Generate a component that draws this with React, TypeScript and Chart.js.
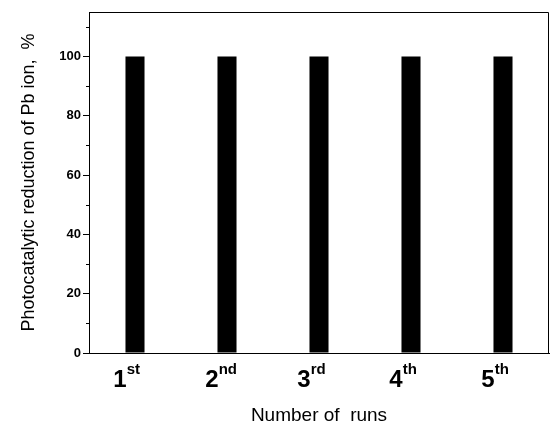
import React, { useEffect, useRef } from "react";
import { Chart, registerables } from "chart.js";

Chart.register(...registerables);

const runNumbers = ["1", "2", "3", "4", "5"];
const runSuffixes = ["st", "nd", "rd", "th", "th"];
const reductionValues = [100, 100, 100, 100, 100];
const yMajorTicks = [0, 20, 40, 60, 80, 100];
const yMinorTicks = [10, 30, 50, 70, 90, 110];
const yTitle = "Photocatalytic reduction of Pb ion,  %";
const xTitle = "Number of  runs";

const FONT = "'Liberation Sans', Arial, Helvetica, sans-serif";
const LABEL_OFFSET = -15;

const extrasPlugin = {
  id: "extras",
  afterDraw(chart: any) {
    const { ctx, chartArea } = chart;
    const x = chart.scales.x;
    const y = chart.scales.y;
    ctx.save();
    // frame
    ctx.strokeStyle = "#000";
    ctx.lineWidth = 1;
    ctx.beginPath();
    ctx.moveTo(chartArea.left, chartArea.top + 0.5);
    ctx.lineTo(chartArea.right - 0.5, chartArea.top + 0.5);
    ctx.lineTo(chartArea.right - 0.5, chartArea.bottom);
    ctx.stroke();
    // minor ticks
    ctx.beginPath();
    yMinorTicks.forEach((v) => {
      const py = Math.round(y.getPixelForValue(v)) + 0.5;
      ctx.moveTo(chartArea.left - 3, py);
      ctx.lineTo(chartArea.left, py);
    });
    ctx.stroke();
    // superscripts
    ctx.fillStyle = "#000";
    runNumbers.forEach((num, i) => {
      const cx = x.getPixelForTick(i) + LABEL_OFFSET;
      ctx.font = `bold 24px ${FONT}`;
      const w = ctx.measureText(num).width;
      ctx.font = `bold 15px ${FONT}`;
      ctx.textAlign = "left";
      ctx.textBaseline = "alphabetic";
      ctx.fillText(runSuffixes[i], cx + w / 2, chartArea.bottom + 21);
    });
    ctx.restore();
  },
};

export default function App() {
  const ref = useRef<HTMLCanvasElement | null>(null);
  useEffect(() => {
    document.body.style.margin = "0";
    if (!ref.current) return;
    const chart = new Chart(ref.current, {
      type: "bar",
      data: {
        labels: runNumbers,
        datasets: [
          {
            data: reductionValues,
            backgroundColor: "#000",
            borderWidth: 0,
            barPercentage: 0.207,
            categoryPercentage: 1,
          },
        ],
      },
      options: {
        animation: false,
        responsive: true,
        maintainAspectRatio: false,
        layout: { padding: { top: 12, right: 7, left: 0, bottom: 0 } },
        plugins: { legend: { display: false }, tooltip: { enabled: false } },
        scales: {
          x: {
            offset: true,
            grid: { display: false },
            border: { display: true, color: "#000", width: 1 },
            ticks: {
              color: "#000",
              font: { family: FONT, size: 24, weight: "bold" },
              labelOffset: LABEL_OFFSET,
              padding: 5,
              maxRotation: 0,
            },
            title: {
              display: true,
              text: xTitle,
              color: "#000",
              font: { family: FONT, size: 19 },
              padding: { top: 0, bottom: 0 },
            },
            afterFit(scale: any) {
              scale.height = 74;
            },
          },
          y: {
            min: 0,
            max: 115,
            afterBuildTicks(scale: any) {
              scale.ticks = yMajorTicks.map((v) => ({ value: v }));
            },
            grid: {
              display: true,
              drawOnChartArea: false,
              tickLength: 6,
              tickColor: "#000",
            },
            border: { display: true, color: "#000", width: 1 },
            ticks: {
              color: "#000",
              font: { family: FONT, size: 13, weight: "bold" },
              padding: 2,
            },
            title: {
              display: true,
              text: yTitle,
              color: "#000",
              font: { family: FONT, size: 18 },
              padding: { top: 18, bottom: 0 },
            },
            afterFit(scale: any) {
              scale.width = 89;
            },
          },
        },
      },
      plugins: [extrasPlugin],
    });
    return () => chart.destroy();
  }, []);
  return (
    <div style={{ position: "absolute", left: 0, top: 0, width: 556, height: 427 }}>
      <canvas ref={ref} />
    </div>
  );
}
